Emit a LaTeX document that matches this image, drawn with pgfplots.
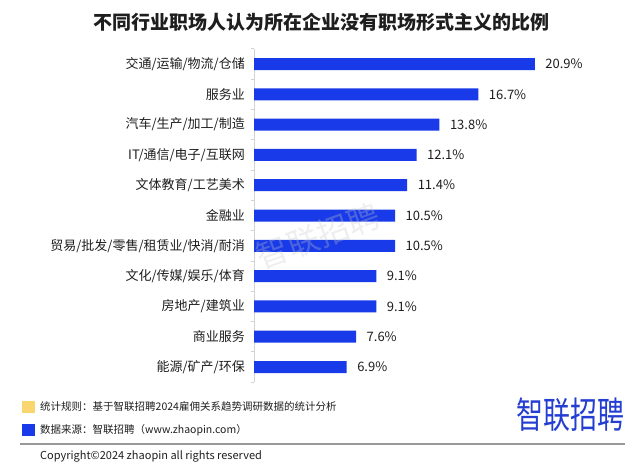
\documentclass[border=0pt]{standalone}
\usepackage{pgfplots}
\pgfplotsset{compat=1.18}
\usepackage{fontspec}
\setmainfont{Noto Sans CJK SC}
\definecolor{barblue}{RGB}{24,58,232}
\definecolor{logoblue}{RGB}{36,62,210}
\definecolor{noteyellow}{RGB}{250,214,110}
\definecolor{txt}{RGB}{30,30,30}
\begin{document}
\begin{tikzpicture}[x=1pt,y=1pt]
\path[use as bounding box] (0,0) rectangle (640,466);
\node[font=\fontsize{19}{22}\selectfont\bfseries, text=txt] at (321,444) {不同行业职场人认为所在企业没有职场形式主义的比例};
\begin{axis}[
  at={(254pt,83.85pt)}, anchor=south west, scale only axis,
  width=336pt, height=333.3pt,
  xmin=0, xmax=25, ymin=-0.5, ymax=10.5, y dir=reverse,
  xbar, bar width=12pt, bar shift=0pt,
  axis x line=none, axis y line*=left,
  axis line style={gray!35, line width=0.8pt},
  ytick={0,...,10},
  yticklabels={交通/运输/物流/仓储,服务业,汽车/生产/加工/制造,IT/通信/电子/互联网,文体教育/工艺美术,金融业,贸易/批发/零售/租赁业/快消/耐消,文化/传媒/娱乐/体育,房地产/建筑业,商业服务,能源/矿产/环保},
  major tick length=0pt,
  minor ytick={-0.5,0.5,...,10.5},
  minor tick length=3pt, tick align=outside,
  minor tick style={gray!35, line width=0.8pt},
  yticklabel style={font=\fontsize{13}{15}\selectfont, text=txt, inner sep=0pt, xshift=-9pt},
  nodes near coords={\pgfmathprintnumber[fixed,precision=1,fixed zerofill]{\pgfplotspointmeta}\%},
  every node near coord/.append style={font=\fontsize{13}{15}\selectfont, text=txt, xshift=7pt},
  /pgf/number format/assume math mode=true,
  clip=false,
]
\addplot[fill=barblue, draw=none] coordinates {
(20.9,0) (16.7,1) (13.8,2) (12.1,3) (11.4,4) (10.5,5) (10.5,6) (9.1,7) (9.1,8) (7.6,9) (6.9,10)};
\end{axis}
\node[font=\fontsize{32}{34}\selectfont, text=gray!45, opacity=0.3, rotate=20] at (318,230) {智联招聘};
\fill[noteyellow] (22,53) rectangle (35,65);
\node[anchor=west, font=\fontsize{10.5}{12}\selectfont, text=txt, inner sep=0pt] at (40,59) {统计规则：基于智联招聘2024雇佣关系趋势调研数据的统计分析};
\fill[barblue] (22,30) rectangle (35,42);
\node[anchor=west, font=\fontsize{10.5}{12}\selectfont, text=txt, inner sep=0pt] at (40,36) {数据来源：智联招聘（www.zhaopin.com）};
\draw[gray!80, line width=1.2pt] (20,22) -- (625,22);
\node[anchor=west, font=\fontsize{11}{13}\selectfont, text=txt, inner sep=0pt] at (40,10) {Copyright©2024 zhaopin all rights reserved};
\node[font=\fontsize{27}{30}\selectfont, text=logoblue, yscale=1.35, inner sep=0pt] at (570,51) {智联招聘};
\end{tikzpicture}
\end{document}
